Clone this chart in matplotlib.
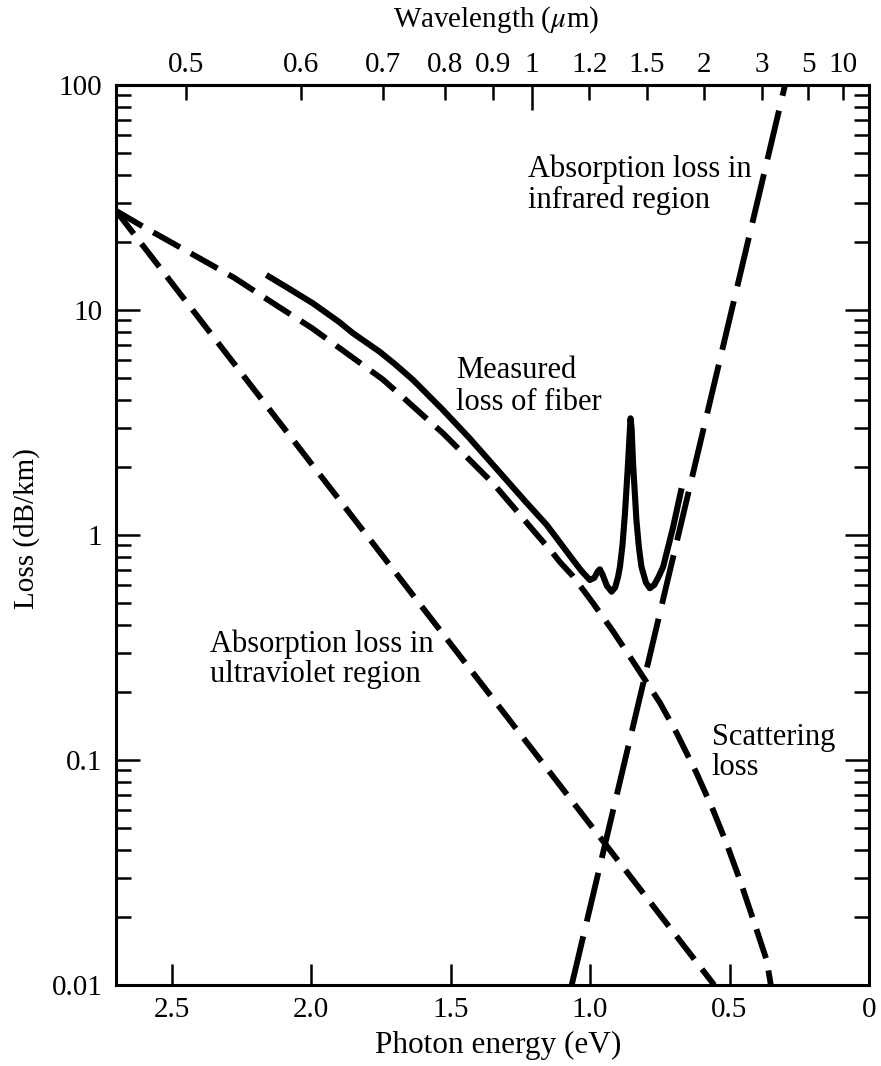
import numpy as np
import matplotlib
matplotlib.use("Agg")
import matplotlib.pyplot as plt
from matplotlib.ticker import LogLocator, NullFormatter

# serif like the printed figure
plt.rcParams['font.family'] = ['Liberation Serif', 'DejaVu Serif']
plt.rcParams['mathtext.fontset'] = 'stix'
plt.rcParams['lines.scale_dashes'] = False

# photon energy (eV) vs loss (dB/km)
uv_energy = [2.70, 0.555]
uv_loss = [27.6, 0.01]

ir_energy = [1.066, 0.301]
ir_loss = [0.01, 100.0]

scatter_energy = [2.70, 2.614, 2.400, 2.275, 2.117, 1.998, 1.874, 1.744, 1.683,
                  1.599, 1.527, 1.348, 1.276, 1.205, 1.133, 1.109, 1.061, 0.989,
                  0.917, 0.851, 0.798, 0.750, 0.690, 0.618, 0.559, 0.511, 0.463,
                  0.415, 0.367, 0.352]
scatter_loss = [27.6, 23.9, 16.97, 13.88, 10.34, 8.32, 6.44, 4.92, 4.22,
                3.40, 2.83, 1.697, 1.336, 1.052, 0.829, 0.760, 0.655, 0.497,
                0.372, 0.280, 0.222, 0.180, 0.132, 0.0873, 0.0599, 0.0426, 0.0293,
                0.0195, 0.0129, 0.010]

fiber_energy = [2.161, 2.080, 1.994, 1.900, 1.850, 1.755, 1.700, 1.635, 1.530,
                1.432, 1.300, 1.230, 1.156, 1.105, 1.061,
                1.030, 1.001, 0.985, 0.972, 0.965, 0.955, 0.940, 0.923, 0.910,
                0.900, 0.893, 0.884, 0.875, 0.864, 0.858, 0.855, 0.851, 0.846,
                0.834, 0.825, 0.816, 0.800, 0.786, 0.770, 0.755, 0.738, 0.702,
                0.672]
fiber_loss = [14.31, 12.45, 10.71, 8.85, 7.88, 6.53, 5.75, 4.89, 3.62,
              2.69, 1.756, 1.40, 1.110, 0.915, 0.774,
              0.690, 0.631, 0.645, 0.690, 0.704, 0.665, 0.595, 0.560, 0.585,
              0.650, 0.723, 0.90, 1.249, 2.08, 2.85, 3.30, 2.95, 2.08,
              1.166, 0.88, 0.723, 0.615, 0.580, 0.600, 0.650, 0.723, 1.089,
              1.613]

energy_ticks = [2.5, 2.0, 1.5, 1.0, 0.5, 0.0]
energy_labels = ['2.5', '2.0', '1.5', '1.0', '0.5', '0']
loss_ticks = [0.01, 0.1, 1, 10, 100]
loss_labels = ['0.01', '0.1', '1', '10', '100']
wavelength_minor = [0.5, 0.6, 0.7, 0.8, 0.9, 1.2, 1.5, 2, 3, 5, 10]
wavelength_minor_labels = ['0.5', '0.6', '0.7', '0.8', '0.9', '1.2', '1.5', '2', '3', '5', '10']
wavelength_major = [1]
wavelength_major_labels = ['1']

hc = 1.24  # eV * um
shift = 0.03  # the printed wavelength scale sits a little to the right

W, H = 881, 1066
fig = plt.figure(figsize=(W / 100, H / 100), dpi=100)
ax = fig.add_axes([116 / W, 1 - 985 / H, (869 - 116) / W, (985 - 85) / H])
ax.set_yscale('log')
ax.set_xlim(2.70, 0)
ax.set_ylim(0.01, 100)

lw = 4.2
ax.plot(uv_energy, uv_loss, color='black', lw=lw, dashes=(21, 9))
ax.plot(scatter_energy, scatter_loss, color='black', lw=lw, dashes=(22, 9))
ax.plot(ir_energy, ir_loss, color='black', lw=lw, dashes=(36, 11))
ax.plot(fiber_energy, fiber_loss, color='black', lw=4.4,
        solid_capstyle='butt', solid_joinstyle='round')

# axes and ticks
for s in ax.spines.values():
    s.set_linewidth(2.2)
ax.set_xticks(energy_ticks, energy_labels)
ax.set_yticks(loss_ticks, loss_labels)
ax.yaxis.set_minor_locator(LogLocator(base=10, subs=np.arange(2, 10), numticks=100))
ax.yaxis.set_minor_formatter(NullFormatter())
ax.tick_params(axis='x', which='major', direction='in', length=15, width=1.8,
               labelsize=21, pad=8.5, top=False)
ax.tick_params(axis='y', which='both', direction='in', left=True, right=True,
               width=1.8, labelsize=21, pad=9.8)
ax.tick_params(axis='y', which='major', length=17.5)
ax.tick_params(axis='y', which='minor', length=10.5)

# wavelength scale on top
top = ax.secondary_xaxis('top', functions=(lambda e: e + shift, lambda s: s - shift))
top.set_xticks([hc / w for w in wavelength_major], wavelength_major_labels)
top.set_xticks([hc / w for w in wavelength_minor], wavelength_minor_labels, minor=True)
top.tick_params(which='both', direction='in', width=1.8, labelsize=21, pad=5)
top.tick_params(which='major', length=18)
top.tick_params(which='minor', length=11)
top.spines['top'].set_linewidth(2.2)

# axis titles
fig.text(496.5 / W, 1 - 27 / H, r'Wavelength ($\mu$m)', fontsize=21,
         ha='center', va='baseline')
fig.text(498 / W, 1 - 1053 / H, 'Photon energy (eV)', fontsize=22.5,
         ha='center', va='baseline')
fig.text(26.7 / W, 1 - 528.5 / H, 'Loss (dB/km)', fontsize=21, rotation=90,
         ha='center', va='center')

# curve labels, one text per line
notes = [
    (1.2235, 39.1, 'Absorption loss in'),
    (1.2235, 28.3, 'infrared region'),
    (1.4794, 5.00, 'Measured'),
    (1.4794, 3.595, 'loss of fiber'),
    (2.3646, 0.303, 'Absorption loss in'),
    (2.3646, 0.2228, 'ultraviolet region'),
    (0.5644, 0.1166, 'Scattering'),
    (0.5644, 0.0858, 'loss'),
]
for e, loss, txt in notes:
    ax.text(e, loss, txt, fontsize=22, ha='left', va='baseline')

fig.savefig('out.png', dpi=100)
